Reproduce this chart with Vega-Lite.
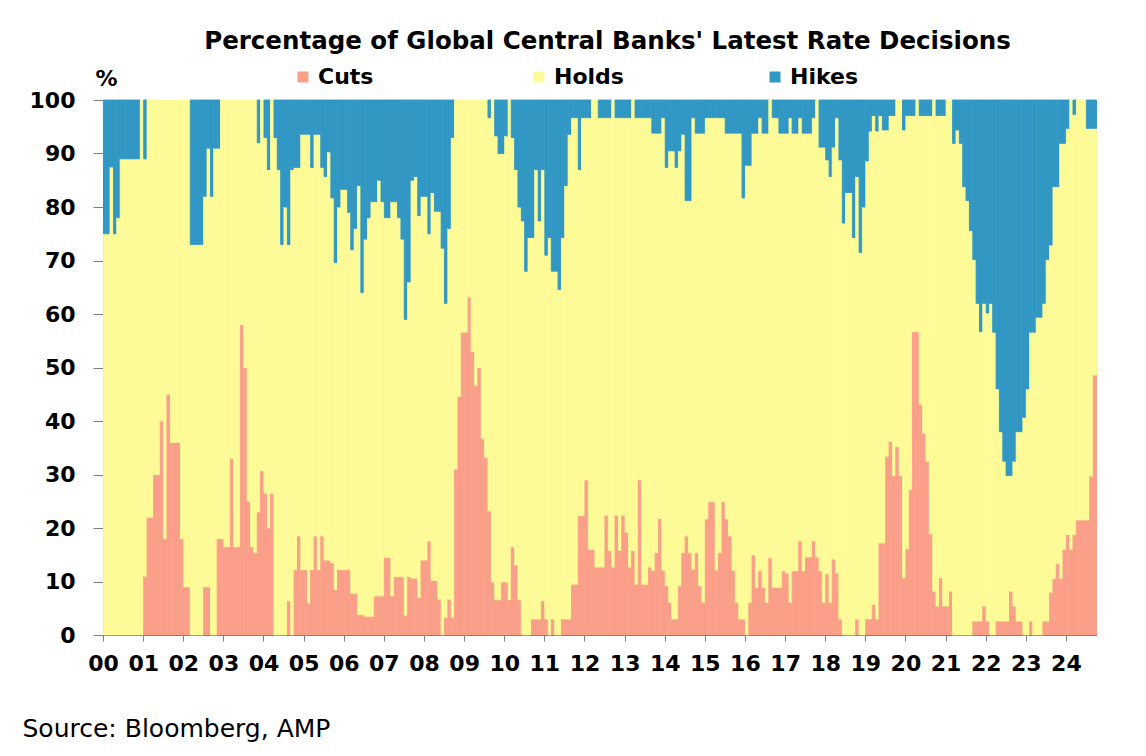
{
  "$schema": "https://vega.github.io/schema/vega-lite/v6.json",
  "width": 993,
  "height": 535,
  "autosize": {"type": "none"},
  "padding": {"left": 103, "top": 100, "right": 50, "bottom": 121},
  "background": "white",
  "title": {
    "text": "Percentage of Global Central Banks' Latest Rate Decisions",
    "font": "DejaVu Sans", "fontSize": 24.5, "fontWeight": "bold", "color": "#000",
    "anchor": "middle", "frame": "group", "dx": 8, "offset": 12
  },
  "data": {"values": [
    {"d":"2000-01","Cuts":0,"Holds":75,"Hikes":25},
    {"d":"2000-02","Cuts":0,"Holds":75,"Hikes":25},
    {"d":"2000-03","Cuts":0,"Holds":87.5,"Hikes":12.5},
    {"d":"2000-04","Cuts":0,"Holds":75,"Hikes":25},
    {"d":"2000-05","Cuts":0,"Holds":78,"Hikes":22},
    {"d":"2000-06","Cuts":0,"Holds":89,"Hikes":11},
    {"d":"2000-07","Cuts":0,"Holds":89,"Hikes":11},
    {"d":"2000-08","Cuts":0,"Holds":89,"Hikes":11},
    {"d":"2000-09","Cuts":0,"Holds":89,"Hikes":11},
    {"d":"2000-10","Cuts":0,"Holds":89,"Hikes":11},
    {"d":"2000-11","Cuts":0,"Holds":89,"Hikes":11},
    {"d":"2000-12","Cuts":0,"Holds":100,"Hikes":0},
    {"d":"2001-01","Cuts":11,"Holds":78,"Hikes":11},
    {"d":"2001-02","Cuts":22,"Holds":78,"Hikes":0},
    {"d":"2001-03","Cuts":22,"Holds":78,"Hikes":0},
    {"d":"2001-04","Cuts":30,"Holds":70,"Hikes":0},
    {"d":"2001-05","Cuts":30,"Holds":70,"Hikes":0},
    {"d":"2001-06","Cuts":40,"Holds":60,"Hikes":0},
    {"d":"2001-07","Cuts":18,"Holds":82,"Hikes":0},
    {"d":"2001-08","Cuts":45,"Holds":55,"Hikes":0},
    {"d":"2001-09","Cuts":36,"Holds":64,"Hikes":0},
    {"d":"2001-10","Cuts":36,"Holds":64,"Hikes":0},
    {"d":"2001-11","Cuts":36,"Holds":64,"Hikes":0},
    {"d":"2001-12","Cuts":18,"Holds":82,"Hikes":0},
    {"d":"2002-01","Cuts":9,"Holds":91,"Hikes":0},
    {"d":"2002-02","Cuts":9,"Holds":91,"Hikes":0},
    {"d":"2002-03","Cuts":0,"Holds":73,"Hikes":27},
    {"d":"2002-04","Cuts":0,"Holds":73,"Hikes":27},
    {"d":"2002-05","Cuts":0,"Holds":73,"Hikes":27},
    {"d":"2002-06","Cuts":0,"Holds":73,"Hikes":27},
    {"d":"2002-07","Cuts":9,"Holds":73,"Hikes":18},
    {"d":"2002-08","Cuts":9,"Holds":82,"Hikes":9},
    {"d":"2002-09","Cuts":0,"Holds":82,"Hikes":18},
    {"d":"2002-10","Cuts":0,"Holds":91,"Hikes":9},
    {"d":"2002-11","Cuts":18,"Holds":73,"Hikes":9},
    {"d":"2002-12","Cuts":18,"Holds":82,"Hikes":0},
    {"d":"2003-01","Cuts":16.5,"Holds":83.5,"Hikes":0},
    {"d":"2003-02","Cuts":16.5,"Holds":83.5,"Hikes":0},
    {"d":"2003-03","Cuts":33,"Holds":67,"Hikes":0},
    {"d":"2003-04","Cuts":16.5,"Holds":83.5,"Hikes":0},
    {"d":"2003-05","Cuts":16.5,"Holds":83.5,"Hikes":0},
    {"d":"2003-06","Cuts":58,"Holds":42,"Hikes":0},
    {"d":"2003-07","Cuts":50,"Holds":50,"Hikes":0},
    {"d":"2003-08","Cuts":25,"Holds":75,"Hikes":0},
    {"d":"2003-09","Cuts":16.5,"Holds":83.5,"Hikes":0},
    {"d":"2003-10","Cuts":15.4,"Holds":84.6,"Hikes":0},
    {"d":"2003-11","Cuts":23,"Holds":69,"Hikes":8},
    {"d":"2003-12","Cuts":30.7,"Holds":69.3,"Hikes":0},
    {"d":"2004-01","Cuts":26.5,"Holds":66.5,"Hikes":7},
    {"d":"2004-02","Cuts":20,"Holds":67,"Hikes":13},
    {"d":"2004-03","Cuts":26.5,"Holds":73.5,"Hikes":0},
    {"d":"2004-04","Cuts":0,"Holds":93,"Hikes":7},
    {"d":"2004-05","Cuts":0,"Holds":87,"Hikes":13},
    {"d":"2004-06","Cuts":0,"Holds":73,"Hikes":27},
    {"d":"2004-07","Cuts":0,"Holds":80,"Hikes":20},
    {"d":"2004-08","Cuts":6.4,"Holds":66.6,"Hikes":27},
    {"d":"2004-09","Cuts":0,"Holds":87,"Hikes":13},
    {"d":"2004-10","Cuts":12.2,"Holds":75.2,"Hikes":12.6},
    {"d":"2004-11","Cuts":18.5,"Holds":68.9,"Hikes":12.6},
    {"d":"2004-12","Cuts":12.2,"Holds":81.4,"Hikes":6.4},
    {"d":"2005-01","Cuts":12.2,"Holds":81.4,"Hikes":6.4},
    {"d":"2005-02","Cuts":6,"Holds":87.6,"Hikes":6.4},
    {"d":"2005-03","Cuts":12.2,"Holds":75.2,"Hikes":12.6},
    {"d":"2005-04","Cuts":18.5,"Holds":75.1,"Hikes":6.4},
    {"d":"2005-05","Cuts":12.2,"Holds":81.4,"Hikes":6.4},
    {"d":"2005-06","Cuts":18.5,"Holds":68.9,"Hikes":12.6},
    {"d":"2005-07","Cuts":14,"Holds":71.7,"Hikes":14.3},
    {"d":"2005-08","Cuts":14,"Holds":76.3,"Hikes":9.7},
    {"d":"2005-09","Cuts":13.5,"Holds":68.2,"Hikes":18.3},
    {"d":"2005-10","Cuts":8.5,"Holds":61.1,"Hikes":30.4},
    {"d":"2005-11","Cuts":12.2,"Holds":67.8,"Hikes":20},
    {"d":"2005-12","Cuts":12.2,"Holds":71.1,"Hikes":16.7},
    {"d":"2006-01","Cuts":12.2,"Holds":71.1,"Hikes":16.7},
    {"d":"2006-02","Cuts":12.3,"Holds":66.7,"Hikes":21},
    {"d":"2006-03","Cuts":7.8,"Holds":64.2,"Hikes":28},
    {"d":"2006-04","Cuts":7.8,"Holds":68.2,"Hikes":24},
    {"d":"2006-05","Cuts":3.8,"Holds":80.2,"Hikes":16},
    {"d":"2006-06","Cuts":3.8,"Holds":60.2,"Hikes":36},
    {"d":"2006-07","Cuts":3.5,"Holds":70.5,"Hikes":26},
    {"d":"2006-08","Cuts":3.5,"Holds":74.5,"Hikes":22},
    {"d":"2006-09","Cuts":3.5,"Holds":77.5,"Hikes":19},
    {"d":"2006-10","Cuts":7.3,"Holds":73.7,"Hikes":19},
    {"d":"2006-11","Cuts":7.3,"Holds":77.7,"Hikes":15},
    {"d":"2006-12","Cuts":7.3,"Holds":73.7,"Hikes":19},
    {"d":"2007-01","Cuts":14.5,"Holds":63.5,"Hikes":22},
    {"d":"2007-02","Cuts":14.5,"Holds":63.5,"Hikes":22},
    {"d":"2007-03","Cuts":7.3,"Holds":73.7,"Hikes":19},
    {"d":"2007-04","Cuts":10.9,"Holds":70.1,"Hikes":19},
    {"d":"2007-05","Cuts":10.9,"Holds":67.1,"Hikes":22},
    {"d":"2007-06","Cuts":10.9,"Holds":63.1,"Hikes":26},
    {"d":"2007-07","Cuts":3.7,"Holds":55.3,"Hikes":41},
    {"d":"2007-08","Cuts":10.9,"Holds":55.1,"Hikes":34},
    {"d":"2007-09","Cuts":10.6,"Holds":74.4,"Hikes":15},
    {"d":"2007-10","Cuts":10.6,"Holds":75.1,"Hikes":14.3},
    {"d":"2007-11","Cuts":7,"Holds":71.4,"Hikes":21.6},
    {"d":"2007-12","Cuts":14,"Holds":68,"Hikes":18},
    {"d":"2008-01","Cuts":14,"Holds":68,"Hikes":18},
    {"d":"2008-02","Cuts":17.6,"Holds":57.4,"Hikes":25},
    {"d":"2008-03","Cuts":10.2,"Holds":72.5,"Hikes":17.3},
    {"d":"2008-04","Cuts":10.2,"Holds":69,"Hikes":20.8},
    {"d":"2008-05","Cuts":6.7,"Holds":72.5,"Hikes":20.8},
    {"d":"2008-06","Cuts":0,"Holds":72.3,"Hikes":27.7},
    {"d":"2008-07","Cuts":3.3,"Holds":58.7,"Hikes":38},
    {"d":"2008-08","Cuts":6.7,"Holds":69.3,"Hikes":24},
    {"d":"2008-09","Cuts":3.3,"Holds":89.7,"Hikes":7},
    {"d":"2008-10","Cuts":31,"Holds":69,"Hikes":0},
    {"d":"2008-11","Cuts":44.6,"Holds":55.4,"Hikes":0},
    {"d":"2008-12","Cuts":56.6,"Holds":43.4,"Hikes":0},
    {"d":"2009-01","Cuts":56.6,"Holds":43.4,"Hikes":0},
    {"d":"2009-02","Cuts":63.2,"Holds":36.8,"Hikes":0},
    {"d":"2009-03","Cuts":53,"Holds":47,"Hikes":0},
    {"d":"2009-04","Cuts":46.6,"Holds":53.4,"Hikes":0},
    {"d":"2009-05","Cuts":50,"Holds":50,"Hikes":0},
    {"d":"2009-06","Cuts":36.7,"Holds":63.3,"Hikes":0},
    {"d":"2009-07","Cuts":33.2,"Holds":66.8,"Hikes":0},
    {"d":"2009-08","Cuts":23.2,"Holds":73.5,"Hikes":3.3},
    {"d":"2009-09","Cuts":9.9,"Holds":90.1,"Hikes":0},
    {"d":"2009-10","Cuts":6.6,"Holds":86.7,"Hikes":6.7},
    {"d":"2009-11","Cuts":6.6,"Holds":83.4,"Hikes":10},
    {"d":"2009-12","Cuts":9.9,"Holds":80.1,"Hikes":10},
    {"d":"2010-01","Cuts":9.9,"Holds":83.4,"Hikes":6.7},
    {"d":"2010-02","Cuts":6.6,"Holds":93.4,"Hikes":0},
    {"d":"2010-03","Cuts":16.5,"Holds":76.5,"Hikes":7},
    {"d":"2010-04","Cuts":13.1,"Holds":73.9,"Hikes":13},
    {"d":"2010-05","Cuts":6.6,"Holds":73.4,"Hikes":20},
    {"d":"2010-06","Cuts":0,"Holds":77.4,"Hikes":22.6},
    {"d":"2010-07","Cuts":0,"Holds":68,"Hikes":32},
    {"d":"2010-08","Cuts":0,"Holds":74.3,"Hikes":25.7},
    {"d":"2010-09","Cuts":3,"Holds":71.3,"Hikes":25.7},
    {"d":"2010-10","Cuts":3,"Holds":84,"Hikes":13},
    {"d":"2010-11","Cuts":3,"Holds":74.4,"Hikes":22.6},
    {"d":"2010-12","Cuts":6.4,"Holds":80.6,"Hikes":13},
    {"d":"2011-01","Cuts":3,"Holds":68,"Hikes":29},
    {"d":"2011-02","Cuts":0,"Holds":74.3,"Hikes":25.7},
    {"d":"2011-03","Cuts":3,"Holds":65,"Hikes":32},
    {"d":"2011-04","Cuts":0,"Holds":68,"Hikes":32},
    {"d":"2011-05","Cuts":0,"Holds":64.6,"Hikes":35.4},
    {"d":"2011-06","Cuts":3,"Holds":71.3,"Hikes":25.7},
    {"d":"2011-07","Cuts":3,"Holds":81,"Hikes":16},
    {"d":"2011-08","Cuts":3,"Holds":90.6,"Hikes":6.4},
    {"d":"2011-09","Cuts":9.5,"Holds":87.2,"Hikes":3.3},
    {"d":"2011-10","Cuts":9.5,"Holds":87.2,"Hikes":3.3},
    {"d":"2011-11","Cuts":22.3,"Holds":64.7,"Hikes":13},
    {"d":"2011-12","Cuts":22.3,"Holds":74.4,"Hikes":3.3},
    {"d":"2012-01","Cuts":29,"Holds":67.7,"Hikes":3.3},
    {"d":"2012-02","Cuts":16,"Holds":80.7,"Hikes":3.3},
    {"d":"2012-03","Cuts":16,"Holds":84,"Hikes":0},
    {"d":"2012-04","Cuts":12.7,"Holds":87.3,"Hikes":0},
    {"d":"2012-05","Cuts":12.7,"Holds":84,"Hikes":3.3},
    {"d":"2012-06","Cuts":12.7,"Holds":84,"Hikes":3.3},
    {"d":"2012-07","Cuts":22.4,"Holds":74.3,"Hikes":3.3},
    {"d":"2012-08","Cuts":15.8,"Holds":80.9,"Hikes":3.3},
    {"d":"2012-09","Cuts":12.7,"Holds":87.3,"Hikes":0},
    {"d":"2012-10","Cuts":22.4,"Holds":74.3,"Hikes":3.3},
    {"d":"2012-11","Cuts":15.8,"Holds":80.9,"Hikes":3.3},
    {"d":"2012-12","Cuts":22.4,"Holds":74.3,"Hikes":3.3},
    {"d":"2013-01","Cuts":19.2,"Holds":77.5,"Hikes":3.3},
    {"d":"2013-02","Cuts":12.7,"Holds":84,"Hikes":3.3},
    {"d":"2013-03","Cuts":15.8,"Holds":84.2,"Hikes":0},
    {"d":"2013-04","Cuts":9.5,"Holds":87.2,"Hikes":3.3},
    {"d":"2013-05","Cuts":29,"Holds":67.7,"Hikes":3.3},
    {"d":"2013-06","Cuts":9.5,"Holds":87.2,"Hikes":3.3},
    {"d":"2013-07","Cuts":9.5,"Holds":87.2,"Hikes":3.3},
    {"d":"2013-08","Cuts":12.7,"Holds":84,"Hikes":3.3},
    {"d":"2013-09","Cuts":12.1,"Holds":81.7,"Hikes":6.2},
    {"d":"2013-10","Cuts":15.4,"Holds":78.4,"Hikes":6.2},
    {"d":"2013-11","Cuts":21.8,"Holds":72,"Hikes":6.2},
    {"d":"2013-12","Cuts":12.1,"Holds":84.6,"Hikes":3.3},
    {"d":"2014-01","Cuts":9.2,"Holds":78.2,"Hikes":12.6},
    {"d":"2014-02","Cuts":6.1,"Holds":84.4,"Hikes":9.5},
    {"d":"2014-03","Cuts":3,"Holds":87.5,"Hikes":9.5},
    {"d":"2014-04","Cuts":3,"Holds":84.4,"Hikes":12.6},
    {"d":"2014-05","Cuts":9.2,"Holds":81.3,"Hikes":9.5},
    {"d":"2014-06","Cuts":15.4,"Holds":78.2,"Hikes":6.4},
    {"d":"2014-07","Cuts":18.5,"Holds":62.7,"Hikes":18.8},
    {"d":"2014-08","Cuts":15.4,"Holds":65.8,"Hikes":18.8},
    {"d":"2014-09","Cuts":12.3,"Holds":84.4,"Hikes":3.3},
    {"d":"2014-10","Cuts":15.4,"Holds":78.4,"Hikes":6.2},
    {"d":"2014-11","Cuts":9.2,"Holds":84.6,"Hikes":6.2},
    {"d":"2014-12","Cuts":6.1,"Holds":87.7,"Hikes":6.2},
    {"d":"2015-01","Cuts":21.7,"Holds":75,"Hikes":3.3},
    {"d":"2015-02","Cuts":24.9,"Holds":71.8,"Hikes":3.3},
    {"d":"2015-03","Cuts":24.9,"Holds":71.8,"Hikes":3.3},
    {"d":"2015-04","Cuts":12.1,"Holds":84.6,"Hikes":3.3},
    {"d":"2015-05","Cuts":15.4,"Holds":81.3,"Hikes":3.3},
    {"d":"2015-06","Cuts":24.9,"Holds":71.8,"Hikes":3.3},
    {"d":"2015-07","Cuts":21.7,"Holds":72.1,"Hikes":6.2},
    {"d":"2015-08","Cuts":18.5,"Holds":75.3,"Hikes":6.2},
    {"d":"2015-09","Cuts":12.1,"Holds":81.7,"Hikes":6.2},
    {"d":"2015-10","Cuts":6.1,"Holds":87.7,"Hikes":6.2},
    {"d":"2015-11","Cuts":3,"Holds":90.8,"Hikes":6.2},
    {"d":"2015-12","Cuts":3,"Holds":78.7,"Hikes":18.3},
    {"d":"2016-01","Cuts":0,"Holds":87.8,"Hikes":12.2},
    {"d":"2016-02","Cuts":6.1,"Holds":81.7,"Hikes":12.2},
    {"d":"2016-03","Cuts":15,"Holds":78.8,"Hikes":6.2},
    {"d":"2016-04","Cuts":8.9,"Holds":84.9,"Hikes":6.2},
    {"d":"2016-05","Cuts":12,"Holds":84.7,"Hikes":3.3},
    {"d":"2016-06","Cuts":8.9,"Holds":84.9,"Hikes":6.2},
    {"d":"2016-07","Cuts":6.1,"Holds":87.7,"Hikes":6.2},
    {"d":"2016-08","Cuts":14.4,"Holds":85.6,"Hikes":0},
    {"d":"2016-09","Cuts":8.9,"Holds":87.8,"Hikes":3.3},
    {"d":"2016-10","Cuts":8.9,"Holds":87.8,"Hikes":3.3},
    {"d":"2016-11","Cuts":8.9,"Holds":84.9,"Hikes":6.2},
    {"d":"2016-12","Cuts":12,"Holds":81.8,"Hikes":6.2},
    {"d":"2017-01","Cuts":11.6,"Holds":82.2,"Hikes":6.2},
    {"d":"2017-02","Cuts":6.1,"Holds":90.6,"Hikes":3.3},
    {"d":"2017-03","Cuts":12,"Holds":81.8,"Hikes":6.2},
    {"d":"2017-04","Cuts":12,"Holds":81.8,"Hikes":6.2},
    {"d":"2017-05","Cuts":17.6,"Holds":79.1,"Hikes":3.3},
    {"d":"2017-06","Cuts":12,"Holds":81.8,"Hikes":6.2},
    {"d":"2017-07","Cuts":14.6,"Holds":79.2,"Hikes":6.2},
    {"d":"2017-08","Cuts":14.6,"Holds":79.2,"Hikes":6.2},
    {"d":"2017-09","Cuts":17.6,"Holds":79.1,"Hikes":3.3},
    {"d":"2017-10","Cuts":14.6,"Holds":85.4,"Hikes":0},
    {"d":"2017-11","Cuts":12,"Holds":79.2,"Hikes":8.8},
    {"d":"2017-12","Cuts":6.1,"Holds":85.1,"Hikes":8.8},
    {"d":"2018-01","Cuts":11.4,"Holds":77.4,"Hikes":11.2},
    {"d":"2018-02","Cuts":6.1,"Holds":79.6,"Hikes":14.3},
    {"d":"2018-03","Cuts":14.2,"Holds":77,"Hikes":8.8},
    {"d":"2018-04","Cuts":11.6,"Holds":85.1,"Hikes":3.3},
    {"d":"2018-05","Cuts":3,"Holds":85.8,"Hikes":11.2},
    {"d":"2018-06","Cuts":0,"Holds":77,"Hikes":23},
    {"d":"2018-07","Cuts":0,"Holds":82.7,"Hikes":17.3},
    {"d":"2018-08","Cuts":0,"Holds":82.7,"Hikes":17.3},
    {"d":"2018-09","Cuts":0,"Holds":74.3,"Hikes":25.7},
    {"d":"2018-10","Cuts":3,"Holds":82.7,"Hikes":14.3},
    {"d":"2018-11","Cuts":0,"Holds":71.5,"Hikes":28.5},
    {"d":"2018-12","Cuts":0,"Holds":80,"Hikes":20},
    {"d":"2019-01","Cuts":3,"Holds":85.6,"Hikes":11.4},
    {"d":"2019-02","Cuts":3,"Holds":91.2,"Hikes":5.8},
    {"d":"2019-03","Cuts":5.7,"Holds":91.4,"Hikes":2.9},
    {"d":"2019-04","Cuts":3,"Holds":91.2,"Hikes":5.8},
    {"d":"2019-05","Cuts":17.2,"Holds":79.9,"Hikes":2.9},
    {"d":"2019-06","Cuts":17.2,"Holds":77.2,"Hikes":5.6},
    {"d":"2019-07","Cuts":33.4,"Holds":61,"Hikes":5.6},
    {"d":"2019-08","Cuts":36.2,"Holds":60.9,"Hikes":2.9},
    {"d":"2019-09","Cuts":29.8,"Holds":67.3,"Hikes":2.9},
    {"d":"2019-10","Cuts":35.2,"Holds":64.8,"Hikes":0},
    {"d":"2019-11","Cuts":29.8,"Holds":70.2,"Hikes":0},
    {"d":"2019-12","Cuts":10.7,"Holds":83.7,"Hikes":5.6},
    {"d":"2020-01","Cuts":16.1,"Holds":81,"Hikes":2.9},
    {"d":"2020-02","Cuts":27.2,"Holds":69.9,"Hikes":2.9},
    {"d":"2020-03","Cuts":56.7,"Holds":40.4,"Hikes":2.9},
    {"d":"2020-04","Cuts":56.7,"Holds":43.3,"Hikes":0},
    {"d":"2020-05","Cuts":43.1,"Holds":54,"Hikes":2.9},
    {"d":"2020-06","Cuts":37.7,"Holds":59.4,"Hikes":2.9},
    {"d":"2020-07","Cuts":32.5,"Holds":64.6,"Hikes":2.9},
    {"d":"2020-08","Cuts":18.9,"Holds":78.2,"Hikes":2.9},
    {"d":"2020-09","Cuts":8.2,"Holds":91.8,"Hikes":0},
    {"d":"2020-10","Cuts":5.4,"Holds":91.7,"Hikes":2.9},
    {"d":"2020-11","Cuts":10.7,"Holds":86.4,"Hikes":2.9},
    {"d":"2020-12","Cuts":5.4,"Holds":91.7,"Hikes":2.9},
    {"d":"2021-01","Cuts":5.4,"Holds":94.6,"Hikes":0},
    {"d":"2021-02","Cuts":8.2,"Holds":91.8,"Hikes":0},
    {"d":"2021-03","Cuts":0,"Holds":91.9,"Hikes":8.1},
    {"d":"2021-04","Cuts":0,"Holds":94.4,"Hikes":5.6},
    {"d":"2021-05","Cuts":0,"Holds":91.9,"Hikes":8.1},
    {"d":"2021-06","Cuts":0,"Holds":83.8,"Hikes":16.2},
    {"d":"2021-07","Cuts":0,"Holds":81.2,"Hikes":18.8},
    {"d":"2021-08","Cuts":0,"Holds":75.6,"Hikes":24.4},
    {"d":"2021-09","Cuts":2.6,"Holds":67.6,"Hikes":29.8},
    {"d":"2021-10","Cuts":2.6,"Holds":59.4,"Hikes":38},
    {"d":"2021-11","Cuts":2.6,"Holds":54.1,"Hikes":43.3},
    {"d":"2021-12","Cuts":5.4,"Holds":56.6,"Hikes":38},
    {"d":"2022-01","Cuts":2.6,"Holds":57.6,"Hikes":39.8},
    {"d":"2022-02","Cuts":0,"Holds":62,"Hikes":38},
    {"d":"2022-03","Cuts":0,"Holds":56.6,"Hikes":43.4},
    {"d":"2022-04","Cuts":2.6,"Holds":43.4,"Hikes":54},
    {"d":"2022-05","Cuts":2.6,"Holds":35.4,"Hikes":62},
    {"d":"2022-06","Cuts":2.6,"Holds":29.9,"Hikes":67.5},
    {"d":"2022-07","Cuts":2.6,"Holds":27.2,"Hikes":70.2},
    {"d":"2022-08","Cuts":8.2,"Holds":21.6,"Hikes":70.2},
    {"d":"2022-09","Cuts":5.4,"Holds":27.1,"Hikes":67.5},
    {"d":"2022-10","Cuts":2.6,"Holds":35.4,"Hikes":62},
    {"d":"2022-11","Cuts":2.6,"Holds":35.4,"Hikes":62},
    {"d":"2022-12","Cuts":0,"Holds":40.7,"Hikes":59.3},
    {"d":"2023-01","Cuts":0,"Holds":46,"Hikes":54},
    {"d":"2023-02","Cuts":2.6,"Holds":54,"Hikes":43.4},
    {"d":"2023-03","Cuts":0,"Holds":56.6,"Hikes":43.4},
    {"d":"2023-04","Cuts":0,"Holds":59.4,"Hikes":40.6},
    {"d":"2023-05","Cuts":0,"Holds":59.4,"Hikes":40.6},
    {"d":"2023-06","Cuts":2.6,"Holds":59.4,"Hikes":38},
    {"d":"2023-07","Cuts":2.6,"Holds":67.6,"Hikes":29.8},
    {"d":"2023-08","Cuts":8,"Holds":64.9,"Hikes":27.1},
    {"d":"2023-09","Cuts":10.6,"Holds":73.2,"Hikes":16.2},
    {"d":"2023-10","Cuts":13.4,"Holds":70.4,"Hikes":16.2},
    {"d":"2023-11","Cuts":10.6,"Holds":81.3,"Hikes":8.1},
    {"d":"2023-12","Cuts":16,"Holds":75.9,"Hikes":8.1},
    {"d":"2024-01","Cuts":18.8,"Holds":75.9,"Hikes":5.3},
    {"d":"2024-02","Cuts":16,"Holds":84,"Hikes":0},
    {"d":"2024-03","Cuts":18.8,"Holds":78.5,"Hikes":2.7},
    {"d":"2024-04","Cuts":21.5,"Holds":78.5,"Hikes":0},
    {"d":"2024-05","Cuts":21.5,"Holds":78.5,"Hikes":0},
    {"d":"2024-06","Cuts":21.5,"Holds":78.5,"Hikes":0},
    {"d":"2024-07","Cuts":21.5,"Holds":73.2,"Hikes":5.3},
    {"d":"2024-08","Cuts":29.7,"Holds":65,"Hikes":5.3},
    {"d":"2024-09","Cuts":48.6,"Holds":46.1,"Hikes":5.3}
  ]},
  "transform": [
    {"fold": ["Cuts", "Holds", "Hikes"], "as": ["type", "pct"]},
    {"filter": "datum.pct > 0"},
    {"window": [{"op": "row_number", "as": "rank"}], "groupby": ["d"]}
  ],
  "mark": {"type": "bar", "binSpacing": 0, "strokeWidth": 0.9, "strokeJoin": "miter"},
  "encoding": {
    "x": {
      "field": "d", "type": "temporal", "timeUnit": "utcyearmonth",
      "title": "Source: Bloomberg, AMP",
      "scale": {
        "domain": [{"year": 2000, "month": 1, "date": 1, "utc": true}, {"year": 2024, "month": 10, "date": 1, "utc": true}],
        "nice": false, "padding": 0
      },
      "axis": {
        "tickCount": {"interval": "year", "step": 1},
        "labelExpr": "utcFormat(datum.value, '%y')",
        "labelFlush": false, "labelOverlap": false, "labelDx": 3,
        "tickSize": 6, "labelPadding": 12, "grid": false,
        "titleX": -81, "titleY": 101, "titleAlign": "left", "titleAnchor": "start",
        "titleBaseline": "alphabetic", "titleFontSize": 25, "titleFontWeight": "normal"
      }
    },
    "y": {
      "field": "pct", "type": "quantitative", "stack": "zero", "title": "%",
      "scale": {"domain": [0, 100], "nice": false},
      "axis": {
        "values": [0, 10, 20, 30, 40, 50, 60, 70, 80, 90, 100],
        "tickSize": 10, "labelPadding": 18, "grid": false,
        "titleAngle": 0, "titleAlign": "left", "titleBaseline": "alphabetic",
        "titleX": -8, "titleY": -15, "titleFontSize": 22, "titleFontWeight": "bold"
      }
    },
    "color": {
      "field": "type", "type": "nominal",
      "scale": {"domain": ["Cuts", "Holds", "Hikes"], "range": ["#FA9F89", "#FDFB97", "#3197C4"]},
      "legend": {
        "orient": "none", "legendX": 189, "legendY": -34, "direction": "horizontal",
        "title": null, "symbolType": "square", "symbolSize": 121, "symbolStrokeWidth": 0,
        "labelFont": "DejaVu Sans", "labelFontSize": 22, "labelFontWeight": "bold", "labelColor": "#000",
        "labelOffset": 4, "columnPadding": 140, "gridAlign": "all", "padding": 0
      }
    },
    "stroke": {
      "field": "type", "type": "nominal", "legend": null,
      "scale": {"domain": ["Cuts", "Holds", "Hikes"], "range": ["#FA9F89", "#FDFB97", "#3197C4"]}
    },
    "order": {"field": "rank", "type": "quantitative"}
  },
  "config": {
    "font": "DejaVu Sans",
    "view": {"stroke": "#8c8c8c", "fill": "#FDFB97"},
    "axis": {
      "labelFont": "DejaVu Sans", "labelFontSize": 22, "labelFontWeight": "bold", "labelColor": "#000",
      "titleFont": "DejaVu Sans", "titleColor": "#000",
      "domainColor": "#595959", "tickColor": "#7f7f7f"
    }
  }
}
